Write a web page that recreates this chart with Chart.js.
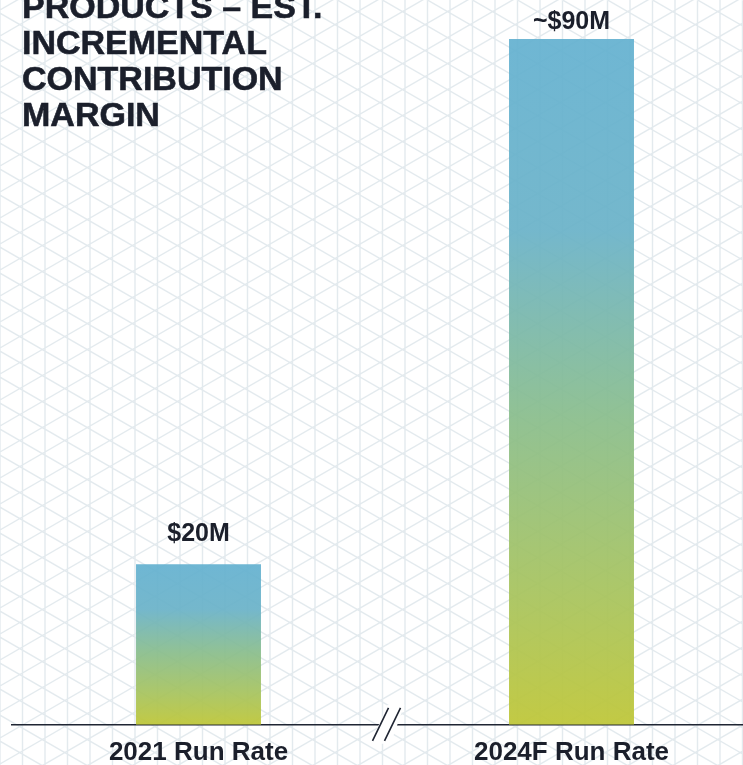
<!DOCTYPE html>
<html>
<head>
<meta charset="utf-8">
<script src="https://cdn.jsdelivr.net/npm/chart.js@4.4.1/dist/chart.umd.min.js"></script>
<style>
  html, body { margin: 0; padding: 0; overflow: hidden; background: #fff; }
  #wrap { position: relative; width: 743px; height: 765px; overflow: hidden; }
  #title {
    position: absolute; left: 22px; top: -12px;
    font-family: "Liberation Sans", Arial, sans-serif; font-weight: bold;
    font-size: 34px; line-height: 36px; color: #1b1f2b;
    -webkit-text-stroke: 0.6px #1b1f2b;
    pointer-events: none;
  }
  canvas { position: absolute; left: 0; top: 0; }
</style>
</head>
<body>
<div id="wrap">
  <canvas id="myChart" width="760" height="780"></canvas>
  <div id="title">PRODUCTS – EST.<br>INCREMENTAL<br>CONTRIBUTION<br>MARGIN</div>
</div>
<script>
// data
const categories = ['2021 Run Rate', '2024F Run Rate'];
const values = [20, 90];
const valueLabels = ['$20M', '~$90M'];

const axisMin = -1.4;   // bars start a bit below zero on the broken axis
const labelGap = [23, 10];
const textColor = '#1b1f2b';
const fontFamily = '"Liberation Sans", Arial, sans-serif';

// iso grid behind everything
const isoGrid = {
  id: 'isoGrid',
  beforeDraw(chart) {
    const c = chart.ctx, w = chart.width, h = chart.height;
    c.save();
    c.fillStyle = '#ffffff';
    c.fillRect(0, 0, w, h);
    c.strokeStyle = 'rgba(200, 214, 222, 0.5)';
    c.lineWidth = 1.4;
    const dx = 22.5, dy = 26, k = Math.tan(Math.PI / 6);
    c.beginPath();
    for (let x = 0; x <= w; x += dx) {
      c.moveTo(x, 0); c.lineTo(x, h);
    }
    // rising and falling lines meet on the vertical lines
    for (let b = -Math.ceil(w * k / dy) * dy; b <= h + w * k + dy; b += dy) {
      c.moveTo(0, b + 10); c.lineTo(w, b + 10 - w * k);
      c.moveTo(0, b + 10 - w * k); c.lineTo(w, b + 10);
    }
    c.stroke();
    c.restore();
  }
};

// value labels over the bars
const barLabels = {
  id: 'barLabels',
  afterDatasetsDraw(chart) {
    const c = chart.ctx;
    const meta = chart.getDatasetMeta(0);
    c.save();
    c.fillStyle = textColor;
    c.font = 'bold 25px ' + fontFamily;
    c.textAlign = 'center';
    c.textBaseline = 'alphabetic';
    meta.data.forEach((bar, i) => {
      c.fillText(valueLabels[i], bar.x, bar.y - labelGap[i]);
    });
    c.restore();
  }
};

// axis break mark "//"
const axisBreak = {
  id: 'axisBreak',
  afterDraw(chart) {
    const xs = chart.scales.x;
    const c = chart.ctx;
    const mx = (xs.getPixelForTick(0) + xs.getPixelForTick(1)) / 2 + 1.5;
    const y = chart.chartArea.bottom;
    c.save();
    c.fillStyle = '#ffffff';
    c.beginPath();
    c.moveTo(mx - 16, y + 19);
    c.lineTo(mx + 1, y - 20);
    c.lineTo(mx + 18, y - 20);
    c.lineTo(mx + 4, y + 19);
    c.closePath();
    c.fill();
    c.strokeStyle = '#1f2533';
    c.lineWidth = 1.6;
    c.beginPath();
    c.moveTo(mx - 14, y + 16); c.lineTo(mx + 2, y - 17);
    c.moveTo(mx - 2, y + 16); c.lineTo(mx + 14, y - 17);
    c.stroke();
    c.restore();
  }
};

function barGradient(ctx) {
  const chart = ctx.chart;
  const ys = chart.scales.y;
  const fallback = 'rgba(140, 190, 140, 0.93)';
  if (!ys || !chart.chartArea) return fallback;
  const top = ys.getPixelForValue(values[ctx.dataIndex]);
  const bot = ys.getPixelForValue(axisMin);
  if (!isFinite(top) || !isFinite(bot) || top === bot) return fallback;
  const g = chart.ctx.createLinearGradient(0, top, 0, bot);
  g.addColorStop(0, 'rgba(100, 177, 208, 0.93)');
  g.addColorStop(0.28, 'rgba(106, 178, 200, 0.93)');
  g.addColorStop(0.55, 'rgba(137, 189, 140, 0.93)');
  g.addColorStop(0.8, 'rgba(166, 195, 94, 0.93)');
  g.addColorStop(1, 'rgba(191, 199, 58, 0.95)');
  return g;
}

const config = {
  type: 'bar',
  data: {
    labels: categories,
    datasets: [{
      data: values,
      base: axisMin,
      backgroundColor: barGradient,
      borderWidth: 0,
      barPercentage: 0.335,
      categoryPercentage: 1
    }]
  },
  options: {
    responsive: false,
    devicePixelRatio: 1,
    animation: false,
    layout: { padding: { left: 12, right: 2, top: 39, bottom: 0 } },
    plugins: {
      legend: { display: false },
      tooltip: { enabled: false },
      title: { display: false }
    },
    scales: {
      x: {
        grid: { display: false, drawTicks: false },
        border: { display: true, color: '#1f2533', width: 1.5 },
        ticks: {
          color: textColor,
          padding: 12,
          maxRotation: 0,
          autoSkip: false,
          font: { family: fontFamily, size: 26, weight: 'bold' }
        }
      },
      y: {
        display: false,
        min: axisMin,
        max: 90
      }
    }
  },
  plugins: [isoGrid, barLabels, axisBreak]
};

var ctx = document.getElementById('myChart').getContext('2d');
grafica = new Chart(ctx, config);
</script>
</body>
</html>
